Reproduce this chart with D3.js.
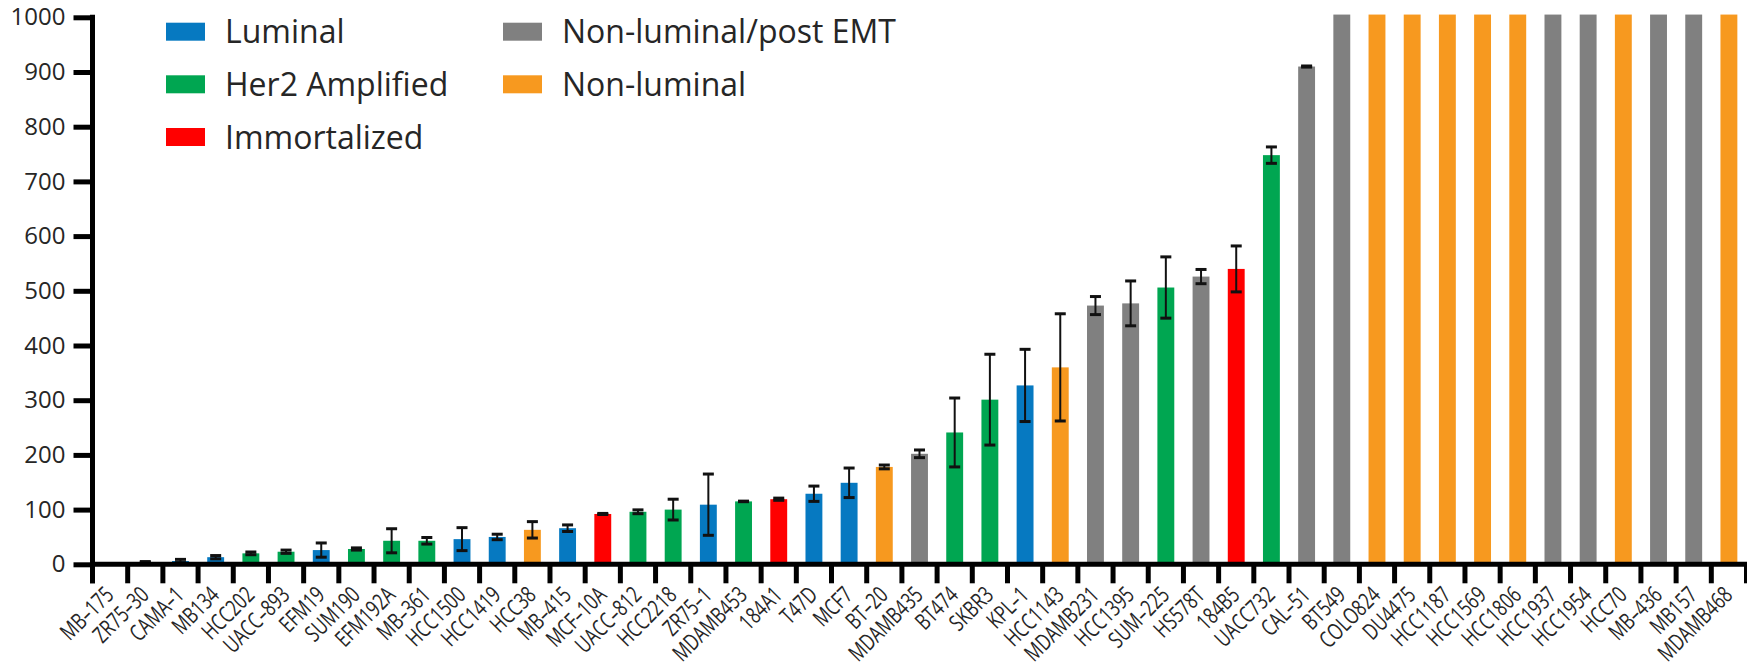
<!DOCTYPE html>
<html>
<head>
<meta charset="utf-8">
<script src="https://cdn.jsdelivr.net/npm/d3@7"></script>
<style>
  html, body { margin: 0; padding: 0; background: #fff; }
  svg { display: block; }
  text { font-family: "Open Sans", "Noto Sans", sans-serif; fill: #262626; }
</style>
</head>
<body>
<svg id="chart" width="1747" height="669"></svg>
<script>
// Cell lines, ordered by value
const cellLines = [
  "MB–175","ZR75–30","CAMA–1","MB134","HCC202","UACC–893","EFM19","SUM190",
  "EFM192A","MB–361","HCC1500","HCC1419","HCC38","MB–415","MCF–10A","UACC–812",
  "HCC2218","ZR75–1","MDAMB453","184A1","T47D","MCF7","BT–20","MDAMB435",
  "BT474","SKBR3","KPL–1","HCC1143","MDAMB231","HCC1395","SUM–225","HS578T",
  "184B5","UACC732","CAL–51","BT549","COLO824","DU4475","HCC1187","HCC1569",
  "HCC1806","HCC1937","HCC1954","HCC70","MB–436","MB157","MDAMB468"
];

// Mean value per cell line
const means = [
  0, 4, 6, 13, 20, 23, 26, 28,
  43, 43, 46, 50, 63, 66, 92, 96,
  100, 109, 115, 119, 129, 149, 178, 202,
  241, 301, 327, 360, 473, 477, 506, 526,
  540, 748, 910, 1005, 1005, 1005, 1005, 1005,
  1005, 1005, 1005, 1005, 1005, 1005, 1005
];

// Error (± half-range) per cell line; null where no bar is drawn
const errors = [
  null, 1, 3, 3, 2.5, 3, 13, 2,
  22, 6, 21, 5, 15, 6, 1, 3.5,
  19, 56, 0.5, 2, 14, 27, 3.5, 7,
  63, 83, 66, 98, 16.5, 41, 56, 13,
  42, 15, 1, null, null, null, null, null,
  null, null, null, null, null, null, null
];

// Subtype of each cell line
const subtypes = [
  "Luminal","Luminal","Luminal","Luminal","Her2 Amplified","Her2 Amplified","Luminal","Her2 Amplified",
  "Her2 Amplified","Her2 Amplified","Luminal","Luminal","Non-luminal","Luminal","Immortalized","Her2 Amplified",
  "Her2 Amplified","Luminal","Her2 Amplified","Immortalized","Luminal","Luminal","Non-luminal","Non-luminal/post EMT",
  "Her2 Amplified","Her2 Amplified","Luminal","Non-luminal","Non-luminal/post EMT","Non-luminal/post EMT","Her2 Amplified","Non-luminal/post EMT",
  "Immortalized","Her2 Amplified","Non-luminal/post EMT","Non-luminal/post EMT","Non-luminal","Non-luminal","Non-luminal","Non-luminal",
  "Non-luminal","Non-luminal/post EMT","Non-luminal/post EMT","Non-luminal","Non-luminal/post EMT","Non-luminal/post EMT","Non-luminal"
];

// Legend entries and their colours
const legendGroups = ["Luminal","Her2 Amplified","Immortalized","Non-luminal/post EMT","Non-luminal"];
const groupColors  = ["#0679c1","#00a651","#ff0000","#808080","#f7991f"];

const yTicks = [0,100,200,300,400,500,600,700,800,900,1000];

const svg = d3.select("#chart");

const plotLeft = 92.5, plotRight = 1746.5, yZero = 564.3, yTop = 17.3;

const x = d3.scaleBand()
  .domain(cellLines)
  .range([plotLeft, plotRight])
  .paddingInner(0.52)
  .paddingOuter(0.26);

const y = d3.scaleLinear().domain([0, 1000]).range([yZero, yTop]);

const color = d3.scaleOrdinal().domain(legendGroups).range(groupColors);

const rows = cellLines.map((name, i) => ({
  name, value: means[i], err: errors[i], group: subtypes[i]
}));

// Bars
svg.append("g").selectAll("rect")
  .data(rows.filter(d => d.value > 0))
  .join("rect")
  .attr("x", d => x(d.name))
  .attr("width", x.bandwidth())
  .attr("y", d => y(d.value))
  .attr("height", d => y(0) - y(d.value))
  .attr("fill", d => color(d.group));

// Error bars
const eb = svg.append("g").attr("stroke", "#111");
const withErr = rows.filter(d => d.err != null);
const capHalf = 5.5;
eb.selectAll("line.stem")
  .data(withErr)
  .join("line")
  .attr("class", "stem")
  .attr("x1", d => x(d.name) + x.bandwidth() / 2)
  .attr("x2", d => x(d.name) + x.bandwidth() / 2)
  .attr("y1", d => y(d.value + d.err))
  .attr("y2", d => y(Math.max(0, d.value - d.err)))
  .attr("stroke-width", 2);
eb.selectAll("line.capTop")
  .data(withErr)
  .join("line")
  .attr("class", "capTop")
  .attr("x1", d => x(d.name) + x.bandwidth() / 2 - capHalf)
  .attr("x2", d => x(d.name) + x.bandwidth() / 2 + capHalf)
  .attr("y1", d => y(d.value + d.err))
  .attr("y2", d => y(d.value + d.err))
  .attr("stroke-width", 3);
eb.selectAll("line.capBot")
  .data(withErr)
  .join("line")
  .attr("class", "capBot")
  .attr("x1", d => x(d.name) + x.bandwidth() / 2 - capHalf)
  .attr("x2", d => x(d.name) + x.bandwidth() / 2 + capHalf)
  .attr("y1", d => y(Math.max(0, d.value - d.err)))
  .attr("y2", d => y(Math.max(0, d.value - d.err)))
  .attr("stroke-width", 3);

// Y axis
const yAxis = svg.append("g")
  .attr("transform", `translate(${plotLeft},0)`)
  .call(d3.axisLeft(y).tickValues(yTicks).tickSize(19).tickSizeOuter(0).tickPadding(8).tickFormat(d3.format("d")));
yAxis.select(".domain").remove();
yAxis.selectAll(".tick line").attr("stroke", "#000").attr("stroke-width", 5);
yAxis.selectAll(".tick text")
  .attr("font-size", 24)
  .attr("font-family", "'Open Sans', sans-serif")
  .attr("fill", "#262626");

// Category boundary ticks below the baseline
const step = x.step();
const boundaries = d3.range(cellLines.length + 1).map(i => x.range()[0] + i * step);
svg.append("g").selectAll("line")
  .data(boundaries)
  .join("line")
  .attr("x1", d => d).attr("x2", d => d)
  .attr("y1", y(0)).attr("y2", y(0) + 19)
  .attr("stroke", "#000").attr("stroke-width", 5);

// Vertical axis line
svg.append("line")
  .attr("x1", plotLeft).attr("x2", plotLeft)
  .attr("y1", y(1000) - 2.5).attr("y2", y(0) + 19)
  .attr("stroke", "#000").attr("stroke-width", 5);

// Baseline
svg.append("line")
  .attr("x1", plotLeft - 2.5).attr("x2", 1747)
  .attr("y1", y(0)).attr("y2", y(0))
  .attr("stroke", "#000").attr("stroke-width", 5);

// Category labels, rotated and set in a condensed width
svg.append("g").selectAll("text")
  .data(cellLines)
  .join("text")
  .attr("transform", d => `translate(${x(d) + x.bandwidth() / 2 + 5},${y(0) + 32}) rotate(-45) scale(0.74,1)`)
  .attr("text-anchor", "end")
  .attr("font-size", 23)
  .attr("fill", "#222")
  .text(d => d);

// Legend
const legendPos = [
  {sx: 166, cy: 31.7}, {sx: 166, cy: 84.3}, {sx: 166, cy: 137},
  {sx: 503, cy: 31.7}, {sx: 503, cy: 84.3}
];
const lg = svg.append("g");
legendGroups.forEach((g, i) => {
  const p = legendPos[i];
  lg.append("rect")
    .attr("x", p.sx).attr("y", p.cy - 9)
    .attr("width", 39).attr("height", 18)
    .attr("fill", color(g));
  lg.append("text")
    .attr("x", p.sx + 59).attr("y", p.cy)
    .attr("dy", "0.36em")
    .attr("font-size", 32)
    .text(g);
});
</script>
</body>
</html>
